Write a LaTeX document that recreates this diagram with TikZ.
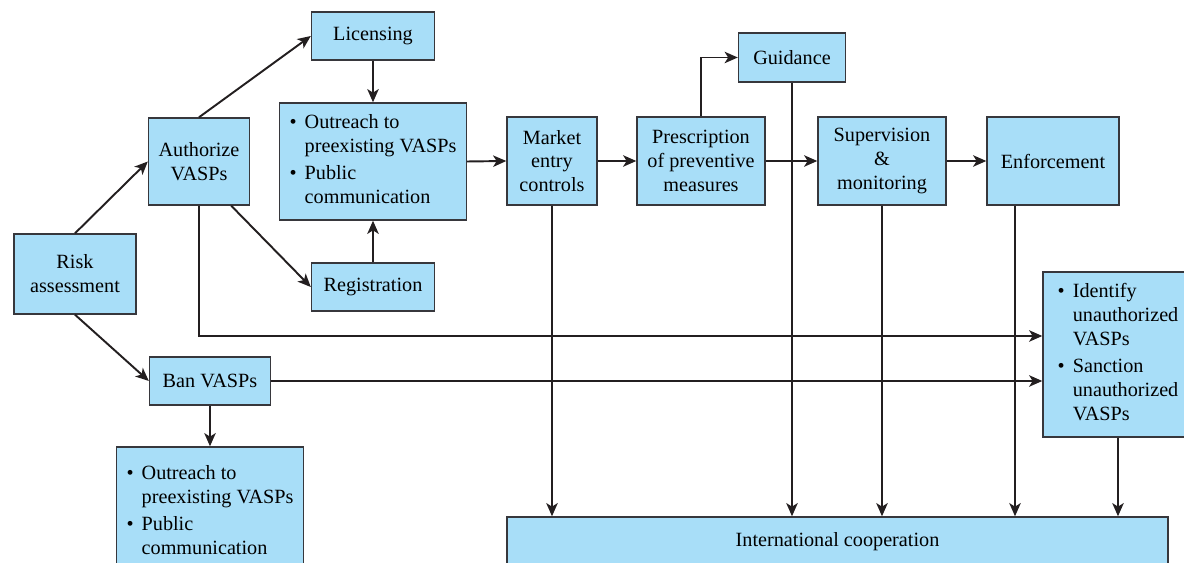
\documentclass[tikz,border=0pt]{standalone}
\usepackage{fontspec}
\setmainfont{Liberation Serif}
\usetikzlibrary{arrows.meta}

\definecolor{boxblue}{RGB}{168,222,248}
\definecolor{boxline}{RGB}{55,55,60}
\definecolor{arrline}{RGB}{35,31,32}

\tikzset{
  box/.style={draw=boxline, line width=0.8pt, fill=boxblue, align=center,
    inner sep=2pt, font=\fontsize{11.5}{13.6}\selectfont},
  arr/.style={draw=arrline, line width=1.1pt,
    -{Stealth[length=7.5pt, width=6.5pt, inset=2pt]}},
  link/.style={draw=arrline, line width=1.1pt}
}

\newcommand{\bullist}[1]{\begin{tabular}{@{}l@{\hspace{0.4em}}l@{}}#1\end{tabular}}

\begin{document}
\begin{tikzpicture}[x=0.02cm, y=-0.02cm]
    \clip (0,0) rectangle (1184,563);

    % Left side
    \node[box, minimum width=2.44cm, minimum height=1.6cm] (risk) at (75,274) {Risk\\assessment};
    \node[box, minimum width=2.02cm, minimum height=1.74cm] (auth) at (199,161.5) {Authorize\\VASPs};
    \node[box, minimum width=2.42cm, minimum height=0.96cm] (ban) at (210,381) {Ban VASPs};
    \node[box, minimum width=3.74cm, minimum height=2.6cm] (outB) at (210,512)
      {\bullist{\textbullet & Outreach to\\ & preexisting VASPs\\[2pt] \textbullet & Public\\ & communication}};

    % Licensing / registration
    \node[box, minimum width=2.46cm, minimum height=0.96cm] (lic) at (373,36) {Licensing};
    \node[box, minimum width=3.74cm, minimum height=2.34cm] (outA) at (373,161.5)
      {\bullist{\textbullet & Outreach to\\ & preexisting VASPs\\[2pt] \textbullet & Public\\ & communication}};
    \node[box, minimum width=2.46cm, minimum height=0.96cm] (reg) at (373,287) {Registration};

    % Main chain
    \node[box, minimum width=1.8cm, minimum height=1.76cm] (mkt) at (552,161) {Market\\entry\\controls};
    \node[box, minimum width=2.56cm, minimum height=1.76cm] (presc) at (701,161) {Prescription\\of preventive\\measures};
    \node[box, minimum width=2.14cm, minimum height=0.98cm] (guid) at (792,57.5) {Guidance};
    \node[box, minimum width=2.56cm, minimum height=1.76cm] (sup) at (882,161) {Supervision\\\&\\monitoring};
    \node[box, minimum width=2.64cm, minimum height=1.76cm] (enf) at (1053,161) {Enforcement};

    % Right and bottom
    \node[box, minimum width=3.0cm, minimum height=3.3cm] (ident) at (1118,354.5)
      {\bullist{\textbullet & Identify\\ & unauthorized\\ & VASPs\\[2pt] \textbullet & Sanction\\ & unauthorized\\ & VASPs}};
    \node[box, minimum width=13.22cm, minimum height=1.0cm] (intl) at (837.5,542) {International cooperation};

    % Arrows from risk assessment
    \draw[arr] (risk.north) -- (auth.west);
    \draw[arr] (risk.south) -- (ban.west);
    \draw[arr] (auth.north) -- (lic.west);
    \draw[arr] ([xshift=-0.38cm]auth.south east) -- (reg.west);
    \draw[arr] (lic.south) -- (outA.north);
    \draw[arr] (reg.north) -- (outA.south);
    \draw[arr] (ban.south) -- (outB.north);

    % Long lines to the right box
    \draw[arr] (auth.south) |- ([yshift=0.37cm]ident.west);
    \draw[arr] (ban.east) -- (ban.east -| ident.west);

    % Main chain
    \draw[arr] (outA.east) -- (mkt.west);
    \draw[arr] (mkt.east) -- (presc.west);
    \draw[arr] (presc.east) -- (sup.west);
    \draw[arr] (sup.east) -- (enf.west);
    \draw[arr] (presc.north) |- (guid.west);

    % Down to international cooperation
    \draw[arr] (mkt.south) -- (mkt.south |- intl.north);
    \draw[arr] (guid.south) -- (guid.south |- intl.north);
    \draw[arr] (sup.south) -- (sup.south |- intl.north);
    \draw[arr] ([xshift=-0.76cm]enf.south) coordinate (e1) -- (e1 |- intl.north);
    \draw[arr] (ident.south) -- (ident.south |- intl.north);
\end{tikzpicture}
\end{document}
